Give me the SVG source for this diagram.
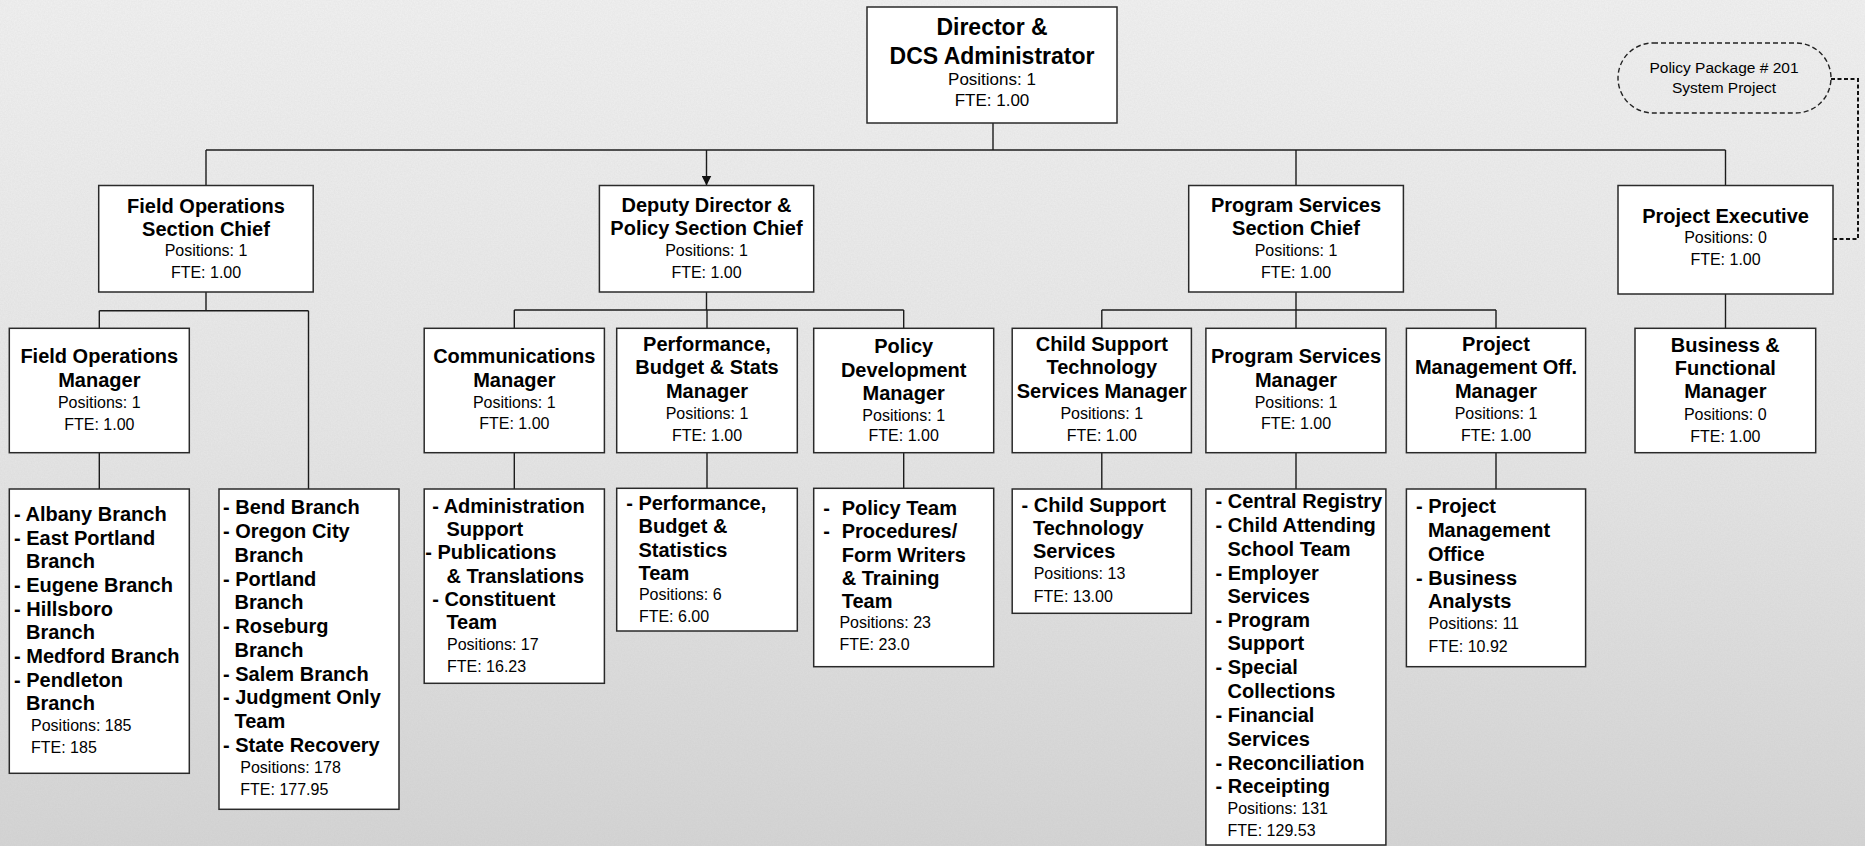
<svg xmlns="http://www.w3.org/2000/svg" width="1865" height="846" viewBox="0 0 1865 846">
<defs>
<linearGradient id="bg" x1="0" y1="0" x2="0" y2="1">
<stop offset="0" stop-color="#f1f1f1"/>
<stop offset="0.5" stop-color="#e7e7e7"/>
<stop offset="1" stop-color="#d5d5d5"/>
</linearGradient>
<filter id="noise" x="0" y="0" width="100%" height="100%">
<feTurbulence type="fractalNoise" baseFrequency="0.7" numOctaves="3" seed="3" result="n"/>
<feColorMatrix type="matrix" values="0 0 0 0 0.45  0 0 0 0 0.45  0 0 0 0 0.45  0 0 0 0.17 0"/>
</filter>
<marker id="arrow" viewBox="0 0 10 10" refX="10" refY="5" markerWidth="10" markerHeight="10" markerUnits="userSpaceOnUse" orient="auto">
<path d="M0,0 L10,5 L0,10 z" fill="#111"/>
</marker>
<style>
.box{fill:#fff;stroke:#2a2a2a;stroke-width:1.5}
.pill{fill:none;stroke:#222;stroke-width:1.4;stroke-dasharray:5 3}
.conn{stroke:#1c1c1c;stroke-width:1.4;fill:none}
.dconn{stroke:#111;stroke-width:2;fill:none;stroke-dasharray:4 2.5}
text{font-family:"Liberation Sans",Arial,Helvetica,sans-serif;fill:#000}
.t{font-weight:bold;font-size:20px;text-anchor:middle}
.tt{font-weight:bold;font-size:23px;text-anchor:middle}
.s{font-size:16px;text-anchor:middle}
.s17{font-size:17px;text-anchor:middle}
.l{font-weight:bold;font-size:20px}
.ls{font-size:16px}
.p{font-size:15.5px;text-anchor:middle}
</style>
</defs>
<rect x="0" y="0" width="1865" height="846" fill="url(#bg)"/>
<rect x="0" y="0" width="1865" height="846" filter="url(#noise)"/>

<g id="connectors">
<path class="conn" d="M993 123 V150"/>
<path class="conn" d="M206 150 H1725.5"/>
<path class="conn" d="M206 150 V185.5"/>
<path class="conn" d="M706.5 150 V185.5" marker-end="url(#arrow)"/>
<path class="conn" d="M1296 150 V185.5"/>
<path class="conn" d="M1725.5 150 V185.5"/>
<path class="conn" d="M206 292 V310.7 M99.3 310.7 H308.5 M99.3 310.7 V328.3 M308.5 310.7 V489"/>
<path class="conn" d="M99.3 452.7 V489"/>
<path class="conn" d="M706.5 292 V310 M514.3 310 H903.7 M514.3 310 V328.3 M707 310 V328.3 M903.7 310 V328.3"/>
<path class="conn" d="M514.3 452.7 V489 M707 452.7 V488.3 M903.7 452.7 V488.3"/>
<path class="conn" d="M1296 292 V310 M1101.8 310 H1496 M1101.8 310 V328.3 M1296 310 V328.3 M1496 310 V328.3"/>
<path class="conn" d="M1101.8 452.7 V489 M1296 452.7 V489 M1496 452.7 V489"/>
<path class="conn" d="M1725.5 294 V328.3"/>
<path class="dconn" d="M1833 239 H1858 V79 H1831"/>
</g>

<g id="policy-package">
<rect class="pill" x="1618" y="43" width="213" height="70" rx="35" ry="35"/>
<text class="p" x="1724" y="73">Policy Package # 201</text>
<text class="p" x="1724" y="93">System Project</text>
</g>

<g id="director">
<rect class="box" x="867" y="7" width="250" height="116"/>
<text class="tt" x="992" y="34.5">Director &amp;</text>
<text class="tt" x="992" y="63.5">DCS Administrator</text>
<text class="s17" x="992" y="85">Positions: 1</text>
<text class="s17" x="992" y="105.5">FTE: 1.00</text>
</g>

<g id="field-ops-chief">
<rect class="box" x="98.7" y="185.5" width="214.5" height="106.5"/>
<text class="t" x="206" y="212.7">Field Operations</text>
<text class="t" x="206" y="236">Section Chief</text>
<text class="s" x="206" y="256">Positions: 1</text>
<text class="s" x="206" y="278.3">FTE: 1.00</text>
</g>

<g id="deputy-director">
<rect class="box" x="599.4" y="185.5" width="214.3" height="106.5"/>
<text class="t" x="706.5" y="211.7">Deputy Director &amp;</text>
<text class="t" x="706.5" y="235">Policy Section Chief</text>
<text class="s" x="706.5" y="256">Positions: 1</text>
<text class="s" x="706.5" y="278.3">FTE: 1.00</text>
</g>

<g id="program-services-chief">
<rect class="box" x="1188.7" y="185.5" width="214.7" height="106.5"/>
<text class="t" x="1296" y="211.7">Program Services</text>
<text class="t" x="1296" y="235">Section Chief</text>
<text class="s" x="1296" y="256">Positions: 1</text>
<text class="s" x="1296" y="278.3">FTE: 1.00</text>
</g>

<g id="project-executive">
<rect class="box" x="1618" y="185.5" width="215" height="108.5"/>
<text class="t" x="1725.5" y="223.3">Project Executive</text>
<text class="s" x="1725.5" y="243.3">Positions: 0</text>
<text class="s" x="1725.5" y="265">FTE: 1.00</text>
</g>

<g id="field-ops-manager">
<rect class="box" x="9.3" y="328.3" width="180" height="124.4"/>
<text class="t" x="99.3" y="363.3">Field Operations</text>
<text class="t" x="99.3" y="386.7">Manager</text>
<text class="s" x="99.3" y="407.7">Positions: 1</text>
<text class="s" x="99.3" y="430">FTE: 1.00</text>
</g>

<g id="communications-manager">
<rect class="box" x="424.2" y="328.3" width="180.2" height="124.4"/>
<text class="t" x="514.3" y="362.7">Communications</text>
<text class="t" x="514.3" y="386.7">Manager</text>
<text class="s" x="514.3" y="407.7">Positions: 1</text>
<text class="s" x="514.3" y="429.3">FTE: 1.00</text>
</g>

<g id="performance-manager">
<rect class="box" x="616.7" y="328.3" width="180.6" height="124.4"/>
<text class="t" x="707" y="351">Performance,</text>
<text class="t" x="707" y="374.3">Budget &amp; Stats</text>
<text class="t" x="707" y="398.3">Manager</text>
<text class="s" x="707" y="419.3">Positions: 1</text>
<text class="s" x="707" y="441">FTE: 1.00</text>
</g>

<g id="policy-development-manager">
<rect class="box" x="813.7" y="328.3" width="180" height="124.4"/>
<text class="t" x="903.7" y="353.3">Policy</text>
<text class="t" x="903.7" y="377.3">Development</text>
<text class="t" x="903.7" y="400">Manager</text>
<text class="s" x="903.7" y="420.7">Positions: 1</text>
<text class="s" x="903.7" y="440.7">FTE: 1.00</text>
</g>

<g id="cst-services-manager">
<rect class="box" x="1012.2" y="328.3" width="179.2" height="124.4"/>
<text class="t" x="1101.8" y="351">Child Support</text>
<text class="t" x="1101.8" y="374.3">Technology</text>
<text class="t" x="1101.8" y="398.3">Services Manager</text>
<text class="s" x="1101.8" y="419.3">Positions: 1</text>
<text class="s" x="1101.8" y="441">FTE: 1.00</text>
</g>

<g id="program-services-manager">
<rect class="box" x="1205.9" y="328.3" width="180" height="124.4"/>
<text class="t" x="1296" y="362.7">Program Services</text>
<text class="t" x="1296" y="386.7">Manager</text>
<text class="s" x="1296" y="407.7">Positions: 1</text>
<text class="s" x="1296" y="429.3">FTE: 1.00</text>
</g>

<g id="pmo-manager">
<rect class="box" x="1406.4" y="328.3" width="179.2" height="124.4"/>
<text class="t" x="1496" y="351">Project</text>
<text class="t" x="1496" y="374.3">Management Off.</text>
<text class="t" x="1496" y="398.3">Manager</text>
<text class="s" x="1496" y="419.3">Positions: 1</text>
<text class="s" x="1496" y="441">FTE: 1.00</text>
</g>

<g id="business-functional-manager">
<rect class="box" x="1635" y="328.3" width="180.7" height="124.4"/>
<text class="t" x="1725.3" y="351.7">Business &amp;</text>
<text class="t" x="1725.3" y="375">Functional</text>
<text class="t" x="1725.3" y="398.3">Manager</text>
<text class="s" x="1725.3" y="420">Positions: 0</text>
<text class="s" x="1725.3" y="441.7">FTE: 1.00</text>
</g>

<g id="branches-1">
<rect class="box" x="9.3" y="489" width="180" height="284.3"/>
<text class="l"><tspan x="14" y="520.7">- Albany Branch</tspan><tspan x="14" y="545">- East Portland</tspan><tspan x="26" y="568.3">Branch</tspan><tspan x="14" y="591.7">- Eugene Branch</tspan><tspan x="14" y="615.7">- Hillsboro</tspan><tspan x="26" y="639.3">Branch</tspan><tspan x="14" y="662.7">- Medford Branch</tspan><tspan x="14" y="686.7">- Pendleton</tspan><tspan x="26" y="710">Branch</tspan></text>
<text class="ls"><tspan x="31" y="730.7">Positions: 185</tspan><tspan x="31" y="753.3">FTE: 185</tspan></text>
</g>

<g id="branches-2">
<rect class="box" x="219" y="489" width="180" height="320.3"/>
<text class="l"><tspan x="223" y="514.3">- Bend Branch</tspan><tspan x="223" y="538.3">- Oregon City</tspan><tspan x="234.5" y="562.3">Branch</tspan><tspan x="223" y="585.7">- Portland</tspan><tspan x="234.5" y="609.3">Branch</tspan><tspan x="223" y="633.3">- Roseburg</tspan><tspan x="234.5" y="656.7">Branch</tspan><tspan x="223" y="680.7">- Salem Branch</tspan><tspan x="223" y="704.3">- Judgment Only</tspan><tspan x="234.5" y="727.7">Team</tspan><tspan x="223" y="751.7">- State Recovery</tspan></text>
<text class="ls"><tspan x="240.3" y="772.7">Positions: 178</tspan><tspan x="240.3" y="795">FTE: 177.95</tspan></text>
</g>

<g id="communications-teams">
<rect class="box" x="424.2" y="489" width="180.2" height="194.3"/>
<text class="l"><tspan x="432.2" y="512.7">- Administration</tspan><tspan x="446.4" y="535.7">Support</tspan><tspan x="425.3" y="559.3">- Publications</tspan><tspan x="446.4" y="582.7">&amp; Translations</tspan><tspan x="432.2" y="606">- Constituent</tspan><tspan x="446.4" y="629.3">Team</tspan></text>
<text class="ls"><tspan x="447" y="650">Positions: 17</tspan><tspan x="447" y="671.7">FTE: 16.23</tspan></text>
</g>

<g id="performance-team">
<rect class="box" x="616.7" y="488.3" width="180.6" height="142.7"/>
<text class="l"><tspan x="626.2" y="510">- Performance,</tspan><tspan x="638.5" y="533.3">Budget &amp;</tspan><tspan x="638.5" y="556.7">Statistics</tspan><tspan x="638.5" y="580">Team</tspan></text>
<text class="ls"><tspan x="638.9" y="600">Positions: 6</tspan><tspan x="638.9" y="621.7">FTE: 6.00</tspan></text>
</g>

<g id="policy-teams">
<rect class="box" x="813.7" y="488.3" width="180" height="178.4"/>
<text class="l"><tspan x="823.3" y="515">-</tspan><tspan x="841.7" y="515">Policy Team</tspan><tspan x="823.3" y="538.3">-</tspan><tspan x="841.7" y="538.3">Procedures/</tspan><tspan x="841.7" y="561.7">Form Writers</tspan><tspan x="841.7" y="585">&amp; Training</tspan><tspan x="841.7" y="608.3">Team</tspan></text>
<text class="ls"><tspan x="839.4" y="628.3">Positions: 23</tspan><tspan x="839.4" y="650">FTE: 23.0</tspan></text>
</g>

<g id="cst-services">
<rect class="box" x="1012.2" y="489" width="179.2" height="124.3"/>
<text class="l"><tspan x="1021.5" y="511.7">- Child Support</tspan><tspan x="1033" y="535">Technology</tspan><tspan x="1033" y="558.3">Services</tspan></text>
<text class="ls"><tspan x="1033.7" y="579.3">Positions: 13</tspan><tspan x="1033.7" y="601.7">FTE: 13.00</tspan></text>
</g>

<g id="program-services-teams">
<rect class="box" x="1205.9" y="489" width="180" height="356"/>
<text class="l"><tspan x="1215.5" y="508.3">- Central Registry</tspan><tspan x="1215.5" y="531.7">- Child Attending</tspan><tspan x="1227.5" y="555.7">School Team</tspan><tspan x="1215.5" y="580">- Employer</tspan><tspan x="1227.5" y="603.3">Services</tspan><tspan x="1215.5" y="626.7">- Program</tspan><tspan x="1227.5" y="650">Support</tspan><tspan x="1215.5" y="674">- Special</tspan><tspan x="1227.5" y="698.3">Collections</tspan><tspan x="1215.5" y="722.3">- Financial</tspan><tspan x="1227.5" y="745.7">Services</tspan><tspan x="1215.5" y="770">- Reconciliation</tspan><tspan x="1215.5" y="793.3">- Receipting</tspan></text>
<text class="ls"><tspan x="1227.5" y="814">Positions: 131</tspan><tspan x="1227.5" y="835.7">FTE: 129.53</tspan></text>
</g>

<g id="pmo-teams">
<rect class="box" x="1406.4" y="489" width="179.2" height="177.7"/>
<text class="l"><tspan x="1416" y="513.3">- Project</tspan><tspan x="1427.9" y="536.7">Management</tspan><tspan x="1427.9" y="560.7">Office</tspan><tspan x="1416" y="585">- Business</tspan><tspan x="1427.9" y="608.3">Analysts</tspan></text>
<text class="ls"><tspan x="1428.6" y="629.3">Positions: 11</tspan><tspan x="1428.6" y="651.7">FTE: 10.92</tspan></text>
</g>
</svg>
